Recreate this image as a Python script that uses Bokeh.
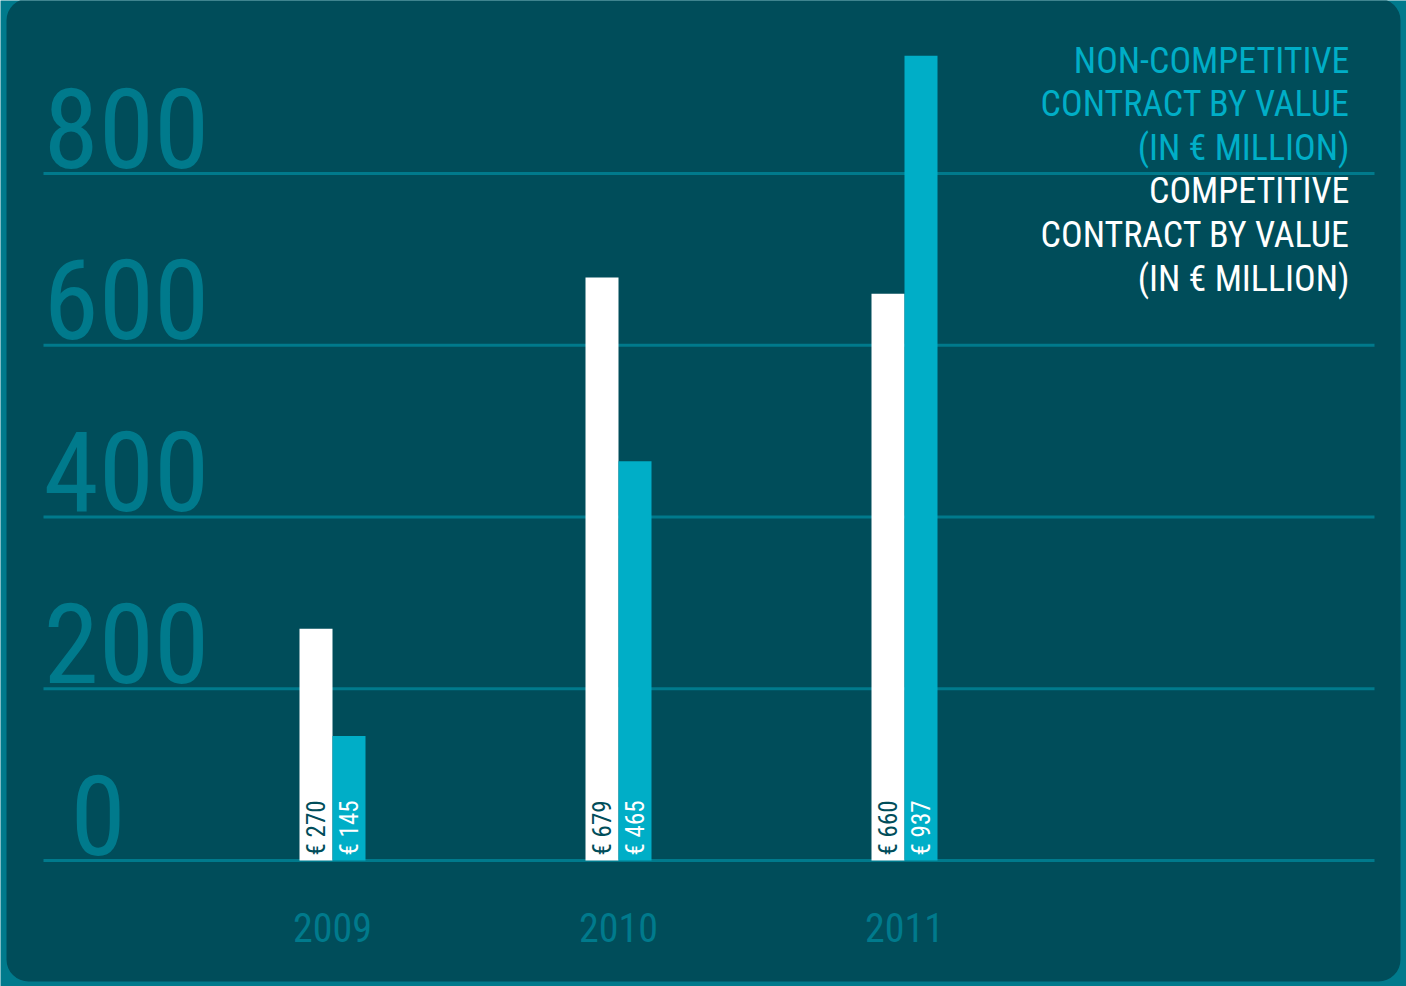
import math
import os
from bokeh.plotting import figure
from bokeh.models import Range1d, BoxAnnotation, ColumnDataSource
from bokeh.core.properties import value
from bokeh.embed import file_html
from bokeh.resources import INLINE

# ---------------- data ----------------
years = ["2009", "2010", "2011"]
competitive = [270, 679, 660]          # white bars (€ million)
non_competitive = [145, 465, 937]      # cyan bars (€ million)
y_ticks = [0, 200, 400, 600, 800]
y_tick_labels = ["0", "200", "400", "600", "800"]
legend_noncomp = ["NON-COMPETITIVE", "CONTRACT BY VALUE", "(IN € MILLION)"]
legend_comp = ["COMPETITIVE", "CONTRACT BY VALUE", "(IN € MILLION)"]

# ---------------- fonts ----------------
font_files = set()
for root in ("/usr/share/fonts", "/usr/local/share/fonts", os.path.expanduser("~/.fonts")):
    for d, _, files in os.walk(root):
        for f in files:
            font_files.add(f.lower())


def has(prefix):
    return any(f.startswith(prefix) for f in font_files)


# (family, tick size, year size, legend size, bar-label size)
if has("robotocondensed-regular") or has("robotocondensed["):
    FAM, S_TICK, S_YEAR, S_LEG, S_BAR = "Roboto Condensed", 112, 40, 36, 25
elif has("liberationsansnarrow-regular"):
    FAM, S_TICK, S_YEAR, S_LEG, S_BAR = "Liberation Sans Narrow", 113, 42, 36, 25
else:
    FAM, S_TICK, S_YEAR, S_LEG, S_BAR = "DejaVu Sans Condensed", 100, 37, 33, 21

FONT = value(f"'{FAM}', 'DejaVu Sans Condensed', sans-serif")

# ---------------- style ----------------
W, H = 1406, 986
PANEL = "#004d5a"
TEAL = "#007a8c"
CYAN = "#00aec7"
WHITE = "#ffffff"

# pixel geometry of the scales
X0_PX, DX_PX = 332.0, 286.0        # canvas px of first group, px per group
Y0_PX, DY_PX = 860.0, 687.0 / 800  # canvas px of value 0, px per unit


def px_to_x(px):
    return (px - X0_PX) / DX_PX


x_range = Range1d(px_to_x(0), px_to_x(W))
y_range = Range1d(-(H - Y0_PX) / DY_PX, Y0_PX / DY_PX)

p = figure(width=W, height=H, x_range=x_range, y_range=y_range,
           output_backend="svg", toolbar_location=None,
           x_axis_location=None, y_axis_location=None,
           title_location=None, min_border=0)
p.grid.visible = False
p.outline_line_color = None
p.background_fill_color = TEAL
p.border_fill_color = TEAL

# rounded dark panel
panel = BoxAnnotation(left=6, right=1400, top=5, bottom=988,
                      left_units="screen", right_units="screen",
                      top_units="screen", bottom_units="screen",
                      fill_color=PANEL, fill_alpha=1.0, line_color=None,
                      border_radius=22, level="underlay")
p.add_layout(panel)

# grid lines
gx0, gx1 = px_to_x(43), px_to_x(1374)
p.segment(x0=[gx0] * len(y_ticks), x1=[gx1] * len(y_ticks),
          y0=y_ticks, y1=y_ticks, line_color=TEAL, line_width=3)

# y tick labels
p.text(x=[px_to_x(70)] + [px_to_x(43)] * (len(y_ticks) - 1), y=y_ticks,
       text=y_tick_labels, y_offset=-46,
       text_align="left", text_baseline="alphabetic",
       text_font=FONT, text_font_size=f"{S_TICK}px", text_color=TEAL)

# bars
bw = 33.0 / DX_PX
xs = list(range(len(years)))
src = ColumnDataSource(dict(
    xc=[x - bw / 2 for x in xs],
    xn=[x + bw / 2 for x in xs],
    comp=competitive,
    noncomp=non_competitive,
    comp_lbl=[f"€ {v}" for v in competitive],
    noncomp_lbl=[f"€ {v}" for v in non_competitive],
    year=years,
    xm=xs,
    zero=[0] * len(years),
))
p.vbar(x="xc", top="comp", bottom=0, width=bw, source=src,
       fill_color=WHITE, line_color=None)
p.vbar(x="xn", top="noncomp", bottom=0, width=bw, source=src,
       fill_color=CYAN, line_color=None)

# rotated value labels inside bars
p.text(x="xc", y="zero", text="comp_lbl", source=src, angle=math.pi / 2,
       y_offset=-5, text_align="left", text_baseline="middle",
       text_font=FONT, text_font_size=f"{S_BAR}px", text_color=PANEL)
p.text(x="xn", y="zero", text="noncomp_lbl", source=src, angle=math.pi / 2,
       y_offset=-5, text_align="left", text_baseline="middle",
       text_font=FONT, text_font_size=f"{S_BAR}px", text_color=WHITE)

# year labels
p.text(x="xm", y="zero", text="year", source=src, y_offset=67,
       text_align="center", text_baseline="alphabetic",
       text_font=FONT, text_font_size=f"{S_YEAR}px", text_color=TEAL)

# legend text block (right aligned)
legend_lines = legend_noncomp + legend_comp
legend_colors = [CYAN] * len(legend_noncomp) + [WHITE] * len(legend_comp)
lx = px_to_x(1349)
p.text(x=[lx] * len(legend_lines), y=[800] * len(legend_lines),
       text=legend_lines, y_offset=[-113 + 43.6 * i for i in range(len(legend_lines))],
       text_align="right", text_baseline="alphabetic",
       text_font=FONT, text_font_size=f"{S_LEG}px", text_color=legend_colors)

open("out.html", "w").write(file_html(p, INLINE))
